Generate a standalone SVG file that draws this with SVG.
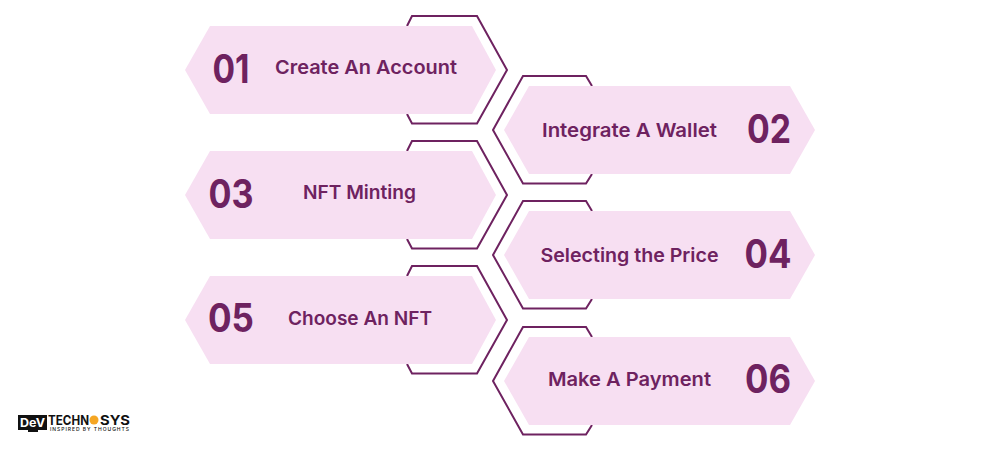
<svg xmlns="http://www.w3.org/2000/svg" width="1000" height="450" viewBox="0 0 1000 450">
<style>
.fill{fill:#f7dff2}
.line{fill:none;stroke:#6e2260;stroke-width:2}
text{font-family:"Inter","Liberation Sans",sans-serif;fill:#6e2260}
.num{font-size:39px;font-weight:700;text-anchor:middle}
.lab{font-size:19px;font-weight:600;text-anchor:middle}
.lg{fill:#111;font-weight:700}
</style>
<defs>
<path id="hexL" class="fill" d="M185 70L210 26H472L496 70L472 114H210Z"/>
<path id="lineL" class="line" d="M407 26L412 16H477L507 70L477 123.500H412L407 114"/>
<path id="hexR" class="fill" d="M504 130L529 86H790L815 130L790 174H529Z"/>
<path id="lineR" class="line" d="M592 86L586 76H523L493 130L523 183.500H586L592 174"/>
</defs>
<rect width="1000" height="450" fill="#fff"/>
<g id="connectors">
<use href="#lineL"/>
<use href="#lineR"/>
<use href="#lineL" y="125"/>
<use href="#lineR" y="125"/>
<use href="#lineL" y="250"/>
<use href="#lineR" y="251"/>
</g>
<g id="node-01"><use href="#hexL"/><text class="num" x="231" y="83" textLength="37" lengthAdjust="spacingAndGlyphs">01</text><text class="lab" x="366" y="74" textLength="182" lengthAdjust="spacingAndGlyphs">Create An Account</text></g>
<g id="node-02"><use href="#hexR"/><text class="lab" x="629.500" y="137" textLength="175" lengthAdjust="spacingAndGlyphs">Integrate A Wallet</text><text class="num" x="769" y="143" textLength="44" lengthAdjust="spacingAndGlyphs">02</text></g>
<g id="node-03"><use href="#hexL" y="125"/><text class="num" x="231" y="208" textLength="45" lengthAdjust="spacingAndGlyphs">03</text><text class="lab" x="359.500" y="199" textLength="113" lengthAdjust="spacingAndGlyphs">NFT Minting</text></g>
<g id="node-04"><use href="#hexR" y="125"/><text class="lab" x="629.500" y="262" textLength="178" lengthAdjust="spacingAndGlyphs">Selecting the Price</text><text class="num" x="768" y="268" textLength="47" lengthAdjust="spacingAndGlyphs">04</text></g>
<g id="node-05"><use href="#hexL" y="250"/><text class="num" x="231" y="332" textLength="46" lengthAdjust="spacingAndGlyphs">05</text><text class="lab" x="360" y="325" textLength="144" lengthAdjust="spacingAndGlyphs">Choose An NFT</text></g>
<g id="node-06"><use href="#hexR" y="251"/><text class="lab" x="629.500" y="386" textLength="163" lengthAdjust="spacingAndGlyphs">Make A Payment</text><text class="num" x="768" y="393" textLength="46" lengthAdjust="spacingAndGlyphs">06</text></g>
<g id="logo">
<rect x="18" y="415" width="29" height="15" fill="#111"/>
<rect x="28" y="430" width="10" height="2" fill="#111"/>
<text x="32.500" y="427" font-size="12" font-weight="700" text-anchor="middle" style="fill:#fff" textLength="25" lengthAdjust="spacingAndGlyphs">DeV</text>
<text class="lg" x="48" y="425" font-size="13" textLength="41" lengthAdjust="spacingAndGlyphs">TECHN</text>
<circle cx="94" cy="420" r="4.500" fill="#f5a623"/>
<text class="lg" x="100" y="425" font-size="13" textLength="30" lengthAdjust="spacingAndGlyphs">SYS</text>
<text class="lg" x="50" y="431" font-size="5" style="font-weight:500" textLength="79" lengthAdjust="spacing">INSPIRED BY THOUGHTS</text>
</g>
</svg>
